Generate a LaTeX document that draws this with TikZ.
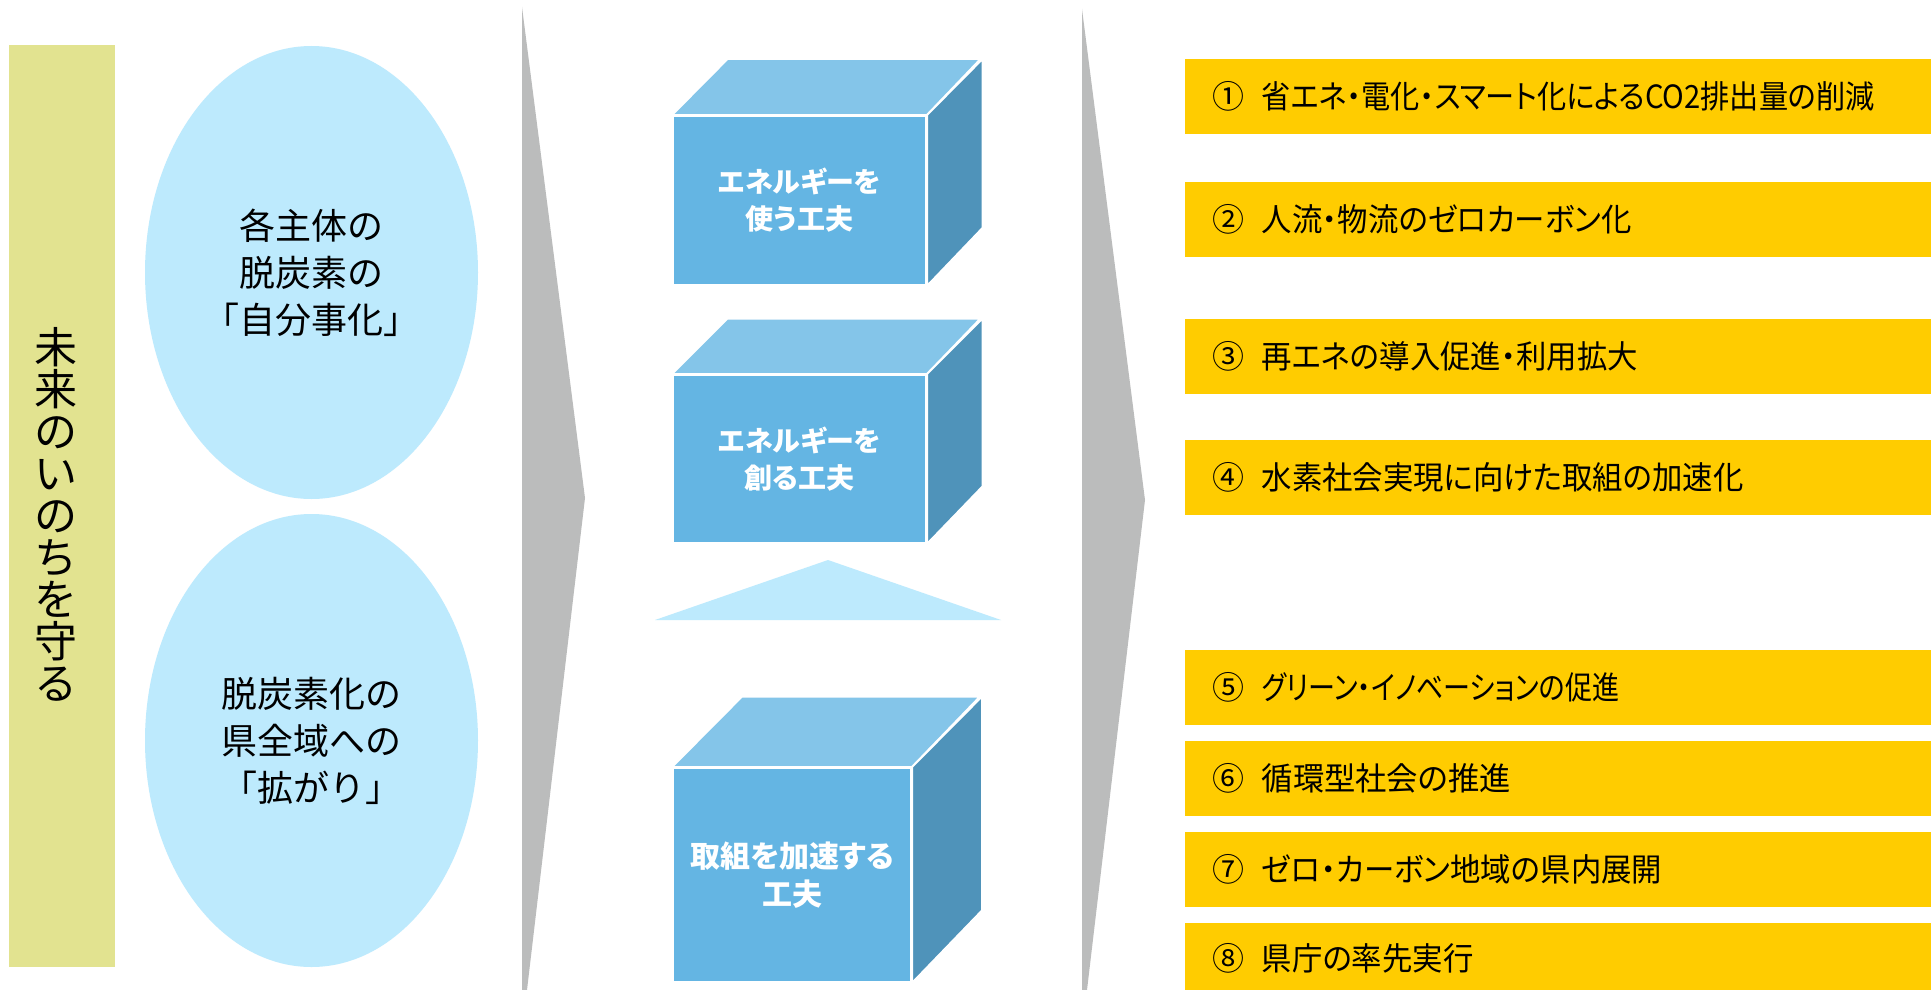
\documentclass[tikz,border=0pt]{standalone}
\usepackage{fontspec}
\setmainfont{Noto Sans CJK JP}
\newfontfamily\paltfont[RawFeature={+palt}]{Noto Sans CJK JP}
\newfontfamily\barfont[RawFeature={+palt},FakeStretch=0.95]{Noto Sans CJK JP}
\usetikzlibrary{shapes.geometric}
\definecolor{barcol}{HTML}{E2E390}
\definecolor{ellblue}{HTML}{BDEAFD}
\definecolor{chevgray}{HTML}{BBBCBC}
\definecolor{frontblue}{HTML}{64B5E3}
\definecolor{topblue}{HTML}{84C5E9}
\definecolor{sideblue}{HTML}{4F93BA}
\definecolor{gold}{HTML}{FFCC00}
\begin{document}
\begin{tikzpicture}[x=1pt,y=-1pt,
  sidebar/.style={rectangle, fill=barcol, inner sep=0pt, anchor=north west},
  ell/.style={ellipse, fill=ellblue, inner sep=0pt, minimum width=333pt, minimum height=453pt,
    align=center, font=\fontsize{36}{47}\selectfont},
  chev/.style={fill=chevgray},
  front/.style={rectangle, fill=frontblue, draw=white, line width=2pt, inner sep=0pt,
    text=white, align=center},
  topface/.style={fill=topblue, draw=white, line width=2pt, line join=miter},
  sideface/.style={fill=sideblue, draw=white, line width=2pt, line join=miter},
  goldbar/.style={rectangle, fill=gold, inner sep=0pt, anchor=north west, minimum width=746pt, minimum height=75pt},
  numtext/.style={anchor=base west, inner sep=0pt, font=\fontsize{32}{32}\selectfont},
  bartext/.style={anchor=base west, inner sep=0pt, font=\barfont\fontsize{32}{32}\selectfont}
]
\useasboundingbox (0,0) rectangle (1931,990);
\fill[white] (0,0) rectangle (1931,990);

% left vertical bar
\node[sidebar, minimum width=106pt, minimum height=922pt] (bar) at (9,45) {};
\node[align=center, inner sep=0pt, font=\fontsize{43}{42}\selectfont] (slogan) at (56,514)
  {未\\来\\の\\い\\の\\ち\\を\\守\\る};

% ellipses
\node[ell] (e1) at (311.5,272.5) {各主体の\\脱炭素の\\「自分事化」};
\node[ell] (e2) at (311.5,740.5) {脱炭素化の\\県全域への\\「拡がり」};

% chevrons
\fill[chev] (522,7) -- (585,498) -- (527,990) -- (522,990) -- cycle;
\fill[chev] (1082,9) -- (1145,500) -- (1087,990) -- (1082,990) -- cycle;

% cube 1
\node[front, minimum width=253pt, minimum height=169pt, font=\paltfont\bfseries\fontsize{28}{37}\selectfont] (c1) at (799.5,200.5)
  {エネルギーを\\使う工夫};
\filldraw[topface] (c1.north west) -- ++(55.5,-56) -- ++(253,0) -- (c1.north east) -- cycle;
\filldraw[sideface] (c1.north east) -- ++(55.5,-56) -- ++(0,169) -- (c1.south east) -- cycle;

% cube 2
\node[front, minimum width=253pt, minimum height=168pt, font=\paltfont\bfseries\fontsize{28}{37}\selectfont] (c2) at (799.5,459)
  {エネルギーを\\創る工夫};
\filldraw[topface] (c2.north west) -- ++(55.5,-55.5) -- ++(253,0) -- (c2.north east) -- cycle;
\filldraw[sideface] (c2.north east) -- ++(55.5,-55.5) -- ++(0,168) -- (c2.south east) -- cycle;

% triangle
\fill[ellblue] (655,620) -- (828,560) -- (1001,620) -- cycle;

% cube 3
\node[front, minimum width=238pt, minimum height=214pt, font=\paltfont\bfseries\fontsize{30}{38}\selectfont] (c3) at (792,875)
  {取組を加速する\\工夫};
\filldraw[topface] (c3.north west) -- ++(70,-70.5) -- ++(238,0) -- (c3.north east) -- cycle;
\filldraw[sideface] (c3.north east) -- ++(70,-70.5) -- ++(0,214) -- (c3.south east) -- cycle;

% gold bars
\node[goldbar] (b1) at (1185,59) {};
\node[goldbar] (b2) at (1185,182) {};
\node[goldbar] (b3) at (1185,319) {};
\node[goldbar] (b4) at (1185,440) {};
\node[goldbar] (b5) at (1185,650) {};
\node[goldbar] (b6) at (1185,741) {};
\node[goldbar] (b7) at (1185,832) {};
\node[goldbar, minimum height=70pt] (b8) at (1185,923) {};

\node[numtext] (n1) at (1212.5,108.5) {①};
\node[numtext] (n2) at (1212.5,231.5) {②};
\node[numtext] (n3) at (1212.5,368.5) {③};
\node[numtext] (n4) at (1212.5,489.5) {④};
\node[numtext] (n5) at (1212.5,699.5) {⑤};
\node[numtext] (n6) at (1212.5,790.5) {⑥};
\node[numtext] (n7) at (1212.5,881.5) {⑦};
\node[numtext] (n8) at (1212.5,970) {⑧};

\node[bartext] (t1) at (1261.5,108.5) {\scalebox{0.96}[1]{省エネ・電化・スマート化によるCO2排出量の削減}};
\node[bartext] (t2) at (1261.5,231.5) {人流・物流のゼロカーボン化};
\node[bartext] (t3) at (1261.5,368.5) {再エネの導入促進・利用拡大};
\node[bartext] (t4) at (1261.5,489.5) {水素社会実現に向けた取組の加速化};
\node[bartext] (t5) at (1261.5,699.5) {\scalebox{0.89}[1]{グリーン・イノベーションの促進}};
\node[bartext] (t6) at (1261.5,790.5) {\scalebox{1.03}[1]{循環型社会の推進}};
\node[bartext] (t7) at (1261.5,881.5) {ゼロ・カーボン地域の県内展開};
\node[bartext] (t8) at (1261.5,970) {県庁の率先実行};
\end{tikzpicture}
\end{document}
